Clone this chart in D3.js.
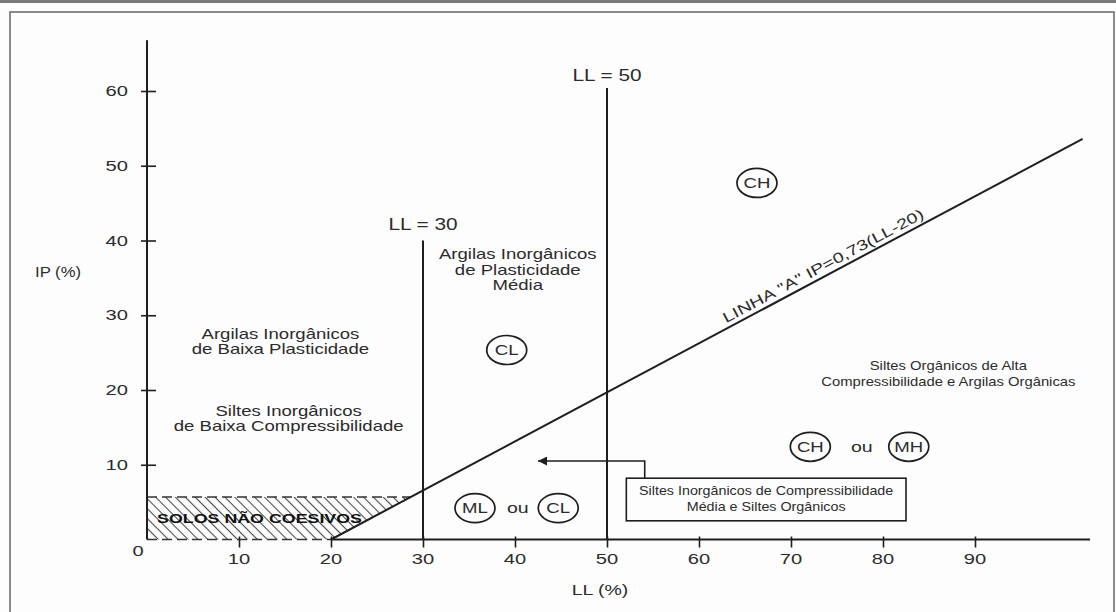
<!DOCTYPE html>
<html>
<head>
<meta charset="utf-8">
<script src="https://cdn.jsdelivr.net/npm/d3@7"></script>
<style>
  html, body { margin: 0; padding: 0; background: #fdfdfd; }
  svg text { font-family: "Liberation Sans", Arial, sans-serif; fill: #2b2b2b; }
</style>
</head>
<body>
<div id="chart"></div>
<script>
// Casagrande plasticity chart (IP x LL)
const xTicks = [10, 20, 30, 40, 50, 60, 70, 80, 90];
const yTicks = [10, 20, 30, 40, 50, 60];
const xAxisEnd = 102.5;
const yAxisTop = 66.8;

// "A" line as drawn in the picture
const aLine = [[20, 0], [101.7, 53.6]];
const aLineLabel = 'LINHA "A" IP=0,73(LL-20)';
const aLineLabelAt = 74;

// vertical limits LL = 30 / LL = 50
const limitLL = [30, 50];
const limitTop = [40, 60.4];
const limitLabels = ["LL = 30", "LL = 50"];
const limitLabelIp = [42.1, 62.1];

// non cohesive soils zone
const nonCohesiveTop = 5.7;
const nonCohesiveLabel = "SOLOS NÃO COESIVOS";
const nonCohesiveLabelAt = [1.1, 2.9];

// region descriptions: [LL, IP of first line], lines
const regionText = [
  { at: [14.5, 27.4], lines: ["Argilas Inorgânicos", "de Baixa Plasticidade"], gap: 15, size: 14.5, sx: 1.28 },
  { at: [15.4, 17.1], lines: ["Siltes Inorgânicos", "de Baixa Compressibilidade"], gap: 14.5, size: 14.5, sx: 1.28 },
  { at: [40.3, 38.1], lines: ["Argilas Inorgânicos", "de  Plasticidade", "Média"], gap: 15.5, size: 14.5, sx: 1.28 },
  { at: [87.1, 23.35], lines: ["Siltes Orgânicos de Alta", "Compressibilidade e Argilas Orgânicas"], gap: 16, size: 13, sx: 1.14 }
];

// soil group symbols
const symbols = [
  { code: "CH", at: [66.3, 47.7] },
  { code: "CL", at: [39.1, 25.35] },
  { code: "ML", at: [35.65, 4.2] },
  { code: "CL", at: [44.7, 4.2] },
  { code: "CH", at: [72.1, 12.4] },
  { code: "MH", at: [82.8, 12.4] }
];
const ouWords = [[40.3, 4.2], [77.7, 12.4]];

// callout box for medium compressibility silts
const boxLL = [52.1, 82.5];
const boxIP = [2.5, 8.2];
const boxLines = ["Siltes Inorgânicos de Compressibilidade", "Média e Siltes Orgânicos"];
const boxTextAt = [67.3, 6.5];
const arrowPath = [[54.1, 8.2], [54.1, 10.5], [42.5, 10.5]];

const W = 1116, H = 612;
const ink = "#1e1e1e";

const svg = d3.select("#chart").append("svg")
    .attr("width", W)
    .attr("height", H);

const x = d3.scaleLinear().domain([0, 90]).range([147, 975]);
const y = d3.scaleLinear().domain([0, 60]).range([539.5, 91]);

// stretched text, like the scanned figure
function label(parent, px, py, str, size, sx, anchor, weight) {
    return parent.append("text")
        .attr("transform", `translate(${px},${py}) scale(${sx},1)`)
        .attr("text-anchor", anchor || "middle")
        .attr("dominant-baseline", "central")
        .style("font-size", size + "px")
        .style("font-weight", weight || "normal")
        .text(str);
}

// frame
svg.append("rect").attr("x", 0).attr("y", 0).attr("width", W).attr("height", 3).attr("fill", "#7a7a7a");
svg.append("rect")
    .attr("x", 10).attr("y", 12)
    .attr("width", 1104).attr("height", 620)
    .attr("fill", "none")
    .attr("stroke", "#666")
    .attr("stroke-width", 1.5);

const defs = svg.append("defs");
const hatch = defs.append("pattern")
    .attr("id", "hatch")
    .attr("patternUnits", "userSpaceOnUse")
    .attr("width", 7).attr("height", 7)
    .attr("patternTransform", "rotate(45)");
hatch.append("line")
    .attr("x1", 0).attr("y1", 3.5).attr("x2", 7).attr("y2", 3.5)
    .attr("stroke", "#4a4a4a").attr("stroke-width", 1.1);

defs.append("marker")
    .attr("id", "arrowhead")
    .attr("viewBox", "0 -5 10 10")
    .attr("refX", 10).attr("refY", 0)
    .attr("orient", "auto")
    .attr("markerUnits", "userSpaceOnUse")
    .attr("markerWidth", 13).attr("markerHeight", 9)
    .append("path")
    .attr("d", "M0,-5L10,0L0,5Z")
    .attr("fill", ink);

const line = d3.line().x(d => x(d[0])).y(d => y(d[1]));

// non cohesive zone (between axis, A line and IP top)
const aSlope = (aLine[1][1] - aLine[0][1]) / (aLine[1][0] - aLine[0][0]);
const llAtTop = aLine[0][0] + nonCohesiveTop / aSlope;
const zone = [[0, 0], [aLine[0][0], 0], [llAtTop, nonCohesiveTop], [0, nonCohesiveTop]];
svg.append("path")
    .attr("d", line(zone) + "Z")
    .attr("fill", "url(#hatch)")
    .attr("stroke", "none");
svg.append("path")
    .attr("d", line([[0, nonCohesiveTop], [llAtTop, nonCohesiveTop]]))
    .attr("stroke", "#333").attr("stroke-width", 1.5)
    .attr("stroke-dasharray", "10,5").attr("fill", "none");
svg.append("path")
    .attr("d", line([[0, 0], [aLine[0][0], 0]]))
    .attr("stroke", "#333").attr("stroke-width", 1.5)
    .attr("stroke-dasharray", "10,5").attr("fill", "none");
label(svg, x(nonCohesiveLabelAt[0]), y(nonCohesiveLabelAt[1]), nonCohesiveLabel, 13.5, 1.32, "start", "bold")
    .style("fill", "#111");

// axes
svg.append("line")
    .attr("x1", x(0)).attr("x2", x(0))
    .attr("y1", y(0)).attr("y2", y(yAxisTop))
    .attr("stroke", ink).attr("stroke-width", 2);
svg.append("line")
    .attr("x1", x(aLine[0][0])).attr("x2", x(xAxisEnd))
    .attr("y1", y(0)).attr("y2", y(0))
    .attr("stroke", ink).attr("stroke-width", 2);

const xAxis = svg.append("g")
    .attr("transform", `translate(0,${y(0)})`)
    .call(d3.axisBottom(x).tickValues(xTicks).tickSize(8).tickFormat(""));
xAxis.select(".domain").remove();
xAxis.selectAll(".tick line").attr("y1", -3).attr("stroke", ink).attr("stroke-width", 1.6);

const yAxis = svg.append("g")
    .attr("transform", `translate(${x(0)},0)`)
    .call(d3.axisLeft(y).tickValues(yTicks).tickSize(6).tickFormat(""));
yAxis.select(".domain").remove();
yAxis.selectAll(".tick line").attr("x1", 9).attr("stroke", ink).attr("stroke-width", 1.6);

xTicks.forEach(v => label(svg, x(v), y(0) + 19, String(v), 15.5, 1.3));
yTicks.forEach(v => label(svg, x(0) - 19, y(v), String(v), 15.5, 1.3, "end"));
label(svg, x(0) - 9, y(0) + 11, "0", 15.5, 1.3);

label(svg, 600, 590, "LL (%)", 15, 1.3);
label(svg, 58, 272, "IP (%)", 14.5, 1.15);

// LL = 30 and LL = 50
limitLL.forEach((ll, i) => {
    svg.append("line")
        .attr("x1", x(ll)).attr("x2", x(ll))
        .attr("y1", y(0)).attr("y2", y(limitTop[i]))
        .attr("stroke", ink).attr("stroke-width", 2);
    label(svg, x(ll), y(limitLabelIp[i]), limitLabels[i], 16, 1.3);
});

// A line
svg.append("path")
    .attr("d", line(aLine))
    .attr("stroke", ink).attr("stroke-width", 2).attr("fill", "none");
const angle = Math.atan2(y(aLine[1][1]) - y(aLine[0][1]), x(aLine[1][0]) - x(aLine[0][0])) * 180 / Math.PI;
const aLabelIp = aLine[0][1] + (aLineLabelAt - aLine[0][0]) * aSlope;
svg.append("text")
    .attr("transform", `translate(${x(aLineLabelAt)},${y(aLabelIp)}) rotate(${angle}) scale(1.35,1)`)
    .attr("text-anchor", "middle")
    .attr("dy", -5)
    .style("font-size", "14.5px")
    .text(aLineLabel);

// region descriptions
regionText.forEach(r => {
    r.lines.forEach((t, i) => {
        label(svg, x(r.at[0]), y(r.at[1]) + i * r.gap, t, r.size, r.sx);
    });
});

// symbols
const sym = svg.selectAll(".symbol")
    .data(symbols)
    .enter().append("g")
    .attr("class", "symbol")
    .attr("transform", d => `translate(${x(d.at[0])},${y(d.at[1])})`);
sym.append("ellipse")
    .attr("rx", 20).attr("ry", 14.5)
    .attr("fill", "none")
    .attr("stroke", ink).attr("stroke-width", 1.7);
sym.each(function (d) {
    label(d3.select(this), 0, 0, d.code, 15.5, 1.2);
});
ouWords.forEach(p => label(svg, x(p[0]), y(p[1]), "ou", 15, 1.3));

// callout box + arrow
svg.append("rect")
    .attr("x", x(boxLL[0])).attr("y", y(boxIP[1]))
    .attr("width", x(boxLL[1]) - x(boxLL[0]))
    .attr("height", y(boxIP[0]) - y(boxIP[1]))
    .attr("fill", "#fdfdfd")
    .attr("stroke", ink).attr("stroke-width", 1.6);
boxLines.forEach((t, i) => label(svg, x(boxTextAt[0]), y(boxTextAt[1]) + i * 16, t, 13, 1.1));
svg.append("path")
    .attr("d", line(arrowPath))
    .attr("fill", "none")
    .attr("stroke", ink).attr("stroke-width", 1.6)
    .attr("marker-end", "url(#arrowhead)");
</script>
</body>
</html>
